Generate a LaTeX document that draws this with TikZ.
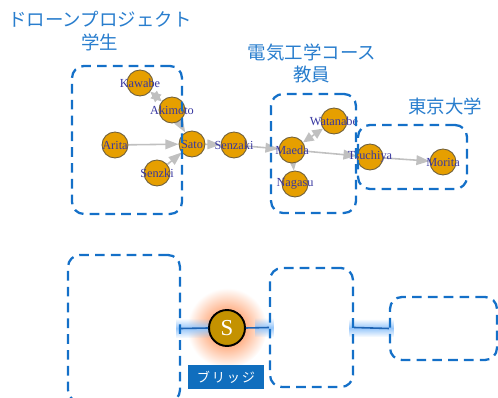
\documentclass[tikz,border=0pt]{standalone}
\usepackage{fontspec}
\setmainfont{Liberation Serif}
\newfontfamily\jpfont{Noto Sans CJK JP}
\newfontfamily\jpwide[LetterSpace=14]{Noto Sans CJK JP}
\usetikzlibrary{arrows.meta,backgrounds,fadings}
\definecolor{grpblue}{RGB}{20,112,200}
\definecolor{titleblue}{RGB}{40,125,205}
\definecolor{vfill}{RGB}{230,159,0}
\definecolor{vborder}{RGB}{110,95,60}
\definecolor{vlabel}{RGB}{55,55,160}
\definecolor{egray}{RGB}{192,192,192}
\definecolor{sgold}{RGB}{196,146,0}
\definecolor{linkblue}{RGB}{30,100,180}
\definecolor{glowblue}{RGB}{150,198,250}
\definecolor{glowor}{RGB}{255,115,40}
\definecolor{tagblue}{RGB}{16,110,190}
\tikzfading[name=midfade, top color=transparent!100, bottom color=transparent!100, middle color=transparent!0]
\begin{document}
\begin{tikzpicture}[x=0.02cm,y=-0.02cm,
  grp/.style={draw=grpblue, line width=1.3pt, dash pattern=on 5.5pt off 3.5pt, rounded corners=0.24cm, inner sep=0pt},
  lbl/.style={text=vlabel, font=\fontsize{7}{8}\selectfont, inner sep=0pt},
  person/.style={circle, fill=vfill, draw=vborder, line width=0.5pt, minimum size=0.52cm, inner sep=0pt, label={[lbl]center:#1}},
  edge/.style={draw=egray, line width=0.9pt, -{Triangle[length=7.5pt,width=5.5pt]}},
  bedge/.style={draw=egray, line width=0.9pt, {Triangle[length=6pt,width=5.5pt]}-{Triangle[length=6pt,width=5.5pt]}},
  title/.style={text=titleblue, font=\jpfont\fontsize{10.5}{13}\selectfont, align=center, inner sep=0pt},
  link/.style={draw=linkblue, line width=0.9pt},
  glow/.style={fill=glowblue, path fading=midfade},
]
\useasboundingbox (0,0) rectangle (498,398);
\clip (0,0) rectangle (498,398);

% ---------- titles ----------
\node[title] (t1) at (100,31.5) {ドローンプロジェクト\\学生};
\node[title] (t2) at (312,63.5) {電気工学コース\\教員};
\node[title] (t3) at (445,106) {東京大学};

% ---------- top network ----------
\node[person=Kawabe]   (kawabe)   at (140,83)  {};
\node[person=Akimoto]  (akimoto)  at (172,110) {};
\node[person=Arita]    (arita)    at (115,145) {};
\node[person=Senzki]   (senzki)   at (157,173) {};
\node[person=Sato]     (sato)     at (192,144) {};
\node[person=Senzaki]  (senzaki)  at (234,145) {};
\node[person=Maeda]    (maeda)    at (292,150) {};
\node[person=Watanabe] (watanabe) at (334,121) {};
\node[person=Nagasu]   (nagasu)   at (295,184) {};
\node[person=Tsuchiya] (tsuchiya) at (370,157) {};
\node[person=Morita]   (morita)   at (443,162) {};

\begin{pgfonlayer}{background}
\draw[bedge] (kawabe) -- (akimoto);
\draw[edge] (akimoto) -- (sato);
\draw[edge] (arita) -- (sato);
\draw[edge] (senzki) -- (sato);
\draw[edge] (sato) -- (senzaki);
\draw[edge] (senzaki) -- (maeda);
\draw[bedge] (maeda) -- (watanabe);
\draw[edge] (maeda) -- (nagasu);
\draw[edge] (maeda) -- (tsuchiya);
\draw[edge] (tsuchiya) -- (morita);
\end{pgfonlayer}

\node[grp, minimum width=2.2cm, minimum height=2.96cm] (g1) at (127,140) {};
\node[grp, minimum width=1.7cm, minimum height=2.38cm] (g2) at (313.5,153.5) {};
\node[grp, minimum width=2.18cm, minimum height=1.28cm] (g3) at (412.5,157) {};

% ---------- bottom ----------
\node[grp, minimum width=2.24cm, minimum height=2.94cm] (bA) at (124,328.5) {};
\node[grp, minimum width=1.66cm, minimum height=2.38cm] (bB) at (311.5,327.5) {};
\node[grp, minimum width=2.14cm, minimum height=1.26cm] (bC) at (443.5,328.5) {};

\node[circle, fill=sgold, draw=black, line width=1.1pt, minimum size=0.72cm, inner sep=0pt, text=white, font=\fontsize{13}{13}\selectfont] (S) at (227,328) {S};

\begin{pgfonlayer}{background}
\shade[inner color=glowor, outer color=white] (S.center) circle (0.8cm);
\fill[glow] ([xshift=-3pt,yshift=-5.5pt]bA.east) rectangle ([xshift=4pt,yshift=5.5pt]S.west);
\fill[glow] ([xshift=-8pt,yshift=-5.5pt]bB.west) rectangle ([xshift=3pt,yshift=5.5pt]bB.west);
\fill[glow] ([xshift=-3pt,yshift=-5.5pt]bB.east) rectangle ([xshift=3pt,yshift=5.5pt]bC.west);
\end{pgfonlayer}

\draw[link] (bA.east) -- (S.west);
\draw[link] (S.east) -- (bB.west);
\draw[link] (bB.east) -- (bC.west);

\node[fill=tagblue, text=white, minimum width=1.52cm, minimum height=0.48cm, inner sep=0pt, font=\jpwide\fontsize{7.5}{8}\selectfont] (tag) at (226,377) {ブリッジ};
\end{tikzpicture}
\end{document}
